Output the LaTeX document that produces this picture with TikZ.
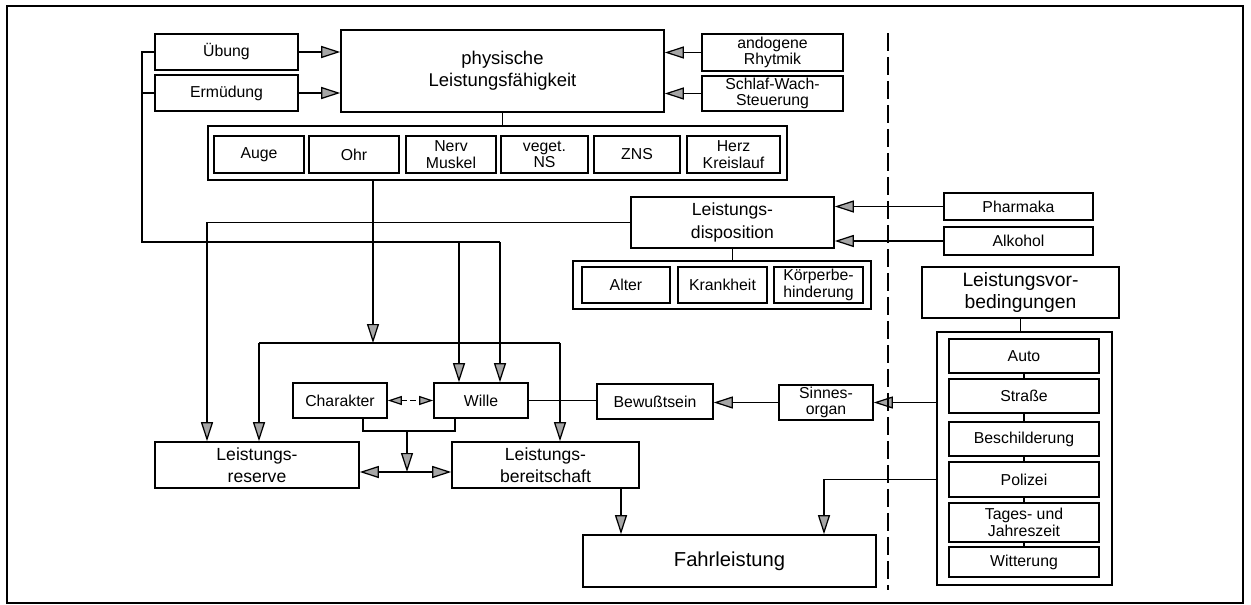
\documentclass[tikz,border=0pt]{standalone}
\usepackage{fontspec}
\setmainfont{Liberation Sans}
\usetikzlibrary{arrows.meta}

\begin{document}
\begin{tikzpicture}[
    x=0.02cm, y=-0.02cm,
    % Styles
    lbox/.style={draw, line width=0.9pt, inner sep=0pt, align=center,
                 font=\fontsize{9}{9.5}\selectfont},          % small labelled box
    bigbox/.style={lbox, font=\fontsize{10}{12.8}\selectfont}, % main blocks
    rowframe/.style={draw, line width=0.9pt, inner sep=0pt},   % frame round a row of boxes
    wire/.style={line width=0.9pt},
    arr/.style={line width=1.1pt, -{Triangle[length=3.8mm, width=2.4mm, fill=gray!70, line width=0.7pt]}},
    arrboth/.style={line width=1.1pt, {Triangle[length=3.8mm, width=2.4mm, fill=gray!70, line width=0.7pt]}-{Triangle[length=3.8mm, width=2.4mm, fill=gray!70, line width=0.7pt]}},
    dblarr/.style={line width=0.7pt, densely dashed, {Triangle[length=2.8mm, width=1.8mm, fill=gray!70]}-{Triangle[length=2.8mm, width=1.8mm, fill=gray!70]}}
]
  \useasboundingbox (0,0) rectangle (1251,605);

  % Outer frame
  \draw[wire] (7,6) rectangle (1243,603);

  % Top row
  \node[lbox, minimum width=2.86cm, minimum height=0.72cm] (uebung) at (226.5,52) {Übung};
  \node[lbox, minimum width=2.86cm, minimum height=0.72cm] (ermuedung) at (226.5,93) {Ermüdung};
  \node[bigbox, font=\fontsize{10.5}{12.5}\selectfont, minimum width=6.46cm, minimum height=1.64cm] (phys) at (502.5,71) {physische\\Leistungsfähigkeit};
  \node[lbox, minimum width=2.82cm, minimum height=0.74cm] (andogen) at (772.5,52.5) {andogene\\Rhytmik};
  \node[lbox, minimum width=2.82cm, minimum height=0.70cm] (schlaf) at (772.5,93.5) {Schlaf-Wach-\\Steuerung};

  % Organs
  \node[rowframe, minimum width=11.58cm, minimum height=1.08cm] (organs) at (497.5,153) {};
  \foreach \n/\x/\w/\txt in {auge/259/1.80/Auge, ohr/354/1.80/Ohr, nerv/451/1.80/Nerv\\Muskel,
                             veget/544.5/1.74/veget.\\NS, zns/637/1.72/ZNS, herz/733.5/1.86/Herz\\Kreislauf}
    \node[lbox, minimum width=\w cm, minimum height=0.74cm] (\n) at (\x,154.5) {\txt};

  % Disposition
  \node[bigbox, minimum width=4.06cm, minimum height=1.02cm] (dispo) at (732.5,222.5) {Leistungs-\\disposition};
  \node[rowframe, minimum width=5.96cm, minimum height=0.96cm] (dgroup) at (722,285) {};
  \foreach \n/\x/\txt in {alter/626/Alter, krank/722.5/Krankheit, koerper/818.5/Körperbe-\\hinderung}
    \node[lbox, minimum width=1.77cm, minimum height=0.72cm] (\n) at (\x,285) {\txt};

  \node[lbox, minimum width=2.98cm, minimum height=0.54cm] (pharmaka) at (1018.5,206.5) {Pharmaka};
  \node[lbox, minimum width=2.98cm, minimum height=0.56cm] (alkohol) at (1018.5,241) {Alkohol};

  % Vorbedingungen
  \node[lbox, font=\fontsize{11}{12}\selectfont, minimum width=3.94cm, minimum height=1.02cm] (vorbed) at (1020.5,292.5) {Leistungsvor-\\bedingungen};
  \node[rowframe, minimum width=3.5cm, minimum height=5.06cm] (vgroup) at (1024.5,458.5) {};
  \foreach \n/\y/\h/\txt in {auto/356/0.68/Auto, strasse/396/0.68/Straße, beschild/439/0.68/Beschilderung,
                             polizei/479.5/0.70/Polizei, tages/522.5/0.78/Tages- und\\Jahreszeit, witterung/562/0.60/Witterung}
    \node[lbox, minimum width=3.0cm, minimum height=\h cm] (\n) at (1024,\y) {\txt};
  \foreach \ta/\tb in {auto/strasse, strasse/beschild, beschild/polizei, polizei/tages, tages/witterung}
    \draw[wire] (\ta.south) -- (\tb.north);

  % Middle and bottom
  \node[lbox, minimum width=1.88cm, minimum height=0.70cm] (sinnes) at (826,402.5) {Sinnes-\\organ};
  \node[lbox, minimum width=2.32cm, minimum height=0.70cm] (bewusst) at (655,401.5) {Bewußtsein};
  \node[lbox, minimum width=1.88cm, minimum height=0.70cm] (wille) at (481,400.5) {Wille};
  \node[lbox, minimum width=1.88cm, minimum height=0.70cm] (charakter) at (340,400.5) {Charakter};
  \node[bigbox, minimum width=4.08cm, minimum height=0.92cm] (reserve) at (257,465) {Leistungs-\\reserve};
  \node[bigbox, minimum width=3.74cm, minimum height=0.92cm] (bereit) at (545.5,465) {Leistungs-\\bereitschaft};
  \node[lbox, font=\fontsize{11.5}{12}\selectfont, minimum width=5.86cm, minimum height=1.04cm] (fahr) at (729.5,561) {Fahrleistung};

  % Junction points
  \coordinate (busL) at (142,242);
  \coordinate (busA) at (459,242);
  \coordinate (busB) at (500,242);
  \coordinate (dispoL) at (207,222.5);
  \coordinate (barL) at (259,343);
  \coordinate (barM) at (373,343);
  \coordinate (barR) at (560,343);
  \coordinate (brkL) at (363,431);
  \coordinate (brkM) at (407,431);
  \coordinate (brkR) at (455,431);
  \coordinate (lnk) at (407,472);
  \coordinate (bf) at (621,500);
  \coordinate (pol) at (824,479.5);

  % Into physische Leistungsfaehigkeit
  \draw[arr] (uebung.east) -- (uebung.east -| phys.west);
  \draw[arr] (ermuedung.east) -- (ermuedung.east -| phys.west);
  \draw[arr] (andogen.west) -- (andogen.west -| phys.east);
  \draw[arr] (schlaf.west) -- (schlaf.west -| phys.east);
  \draw[wire] (phys.south) -- (phys.south |- organs.north);

  % Left bus down to Wille
  \draw[wire] (uebung.west) -| (busL) -- (busB);
  \draw[wire] (ermuedung.west) -- (ermuedung.west -| busL);
  \draw[arr] (busA) -- (busA |- wille.north);
  \draw[arr] (busB) -- (busB |- wille.north);

  % Organs to the distribution bar
  \draw[arr] (barM |- organs.south) -- (barM);
  \draw[wire] (barL) -- (barR);
  \draw[arr] (barL) -- (barL |- reserve.north);
  \draw[arr] (barR) -- (barR |- bereit.north);

  % Disposition
  \draw[arr] (dispo.west) -- (dispoL) -- (dispoL |- reserve.north);
  \draw[wire] (dispo.south) -- (dispo.south |- dgroup.north);
  \draw[arr] (pharmaka.west) -- (pharmaka.west -| dispo.east);
  \draw[arr] (alkohol.west) -- (alkohol.west -| dispo.east);

  % Vorbedingungen
  \draw[wire] (vorbed.south) -- (vorbed.south |- vgroup.north);
  \draw[arr] (vgroup.west |- sinnes.east) -- (sinnes.east);
  \draw[arr] (sinnes.west) -- (sinnes.west -| bewusst.east);
  \draw[wire] (wille.east) -- (wille.east -| bewusst.west);
  \draw[arr] (vgroup.west |- pol) -- (pol) -- (pol |- fahr.north);

  % Charakter and Wille
  \draw[dblarr] (charakter.east) -- (wille.west);
  \draw[wire] (brkL |- charakter.south) -- (brkL) -- (brkR) -- (brkR |- wille.south);
  \draw[arr] (brkM) -- (lnk);
  \draw[arrboth] (lnk -| reserve.east) -- (lnk -| bereit.west);
  \draw[arr] (bf |- bereit.south) -- (bf |- fahr.north);

  % Separator
  \draw[line width=1.1pt, dash pattern=on 0.36cm off 0.12cm] (888,33) -- (888,590);

\end{tikzpicture}
\end{document}
